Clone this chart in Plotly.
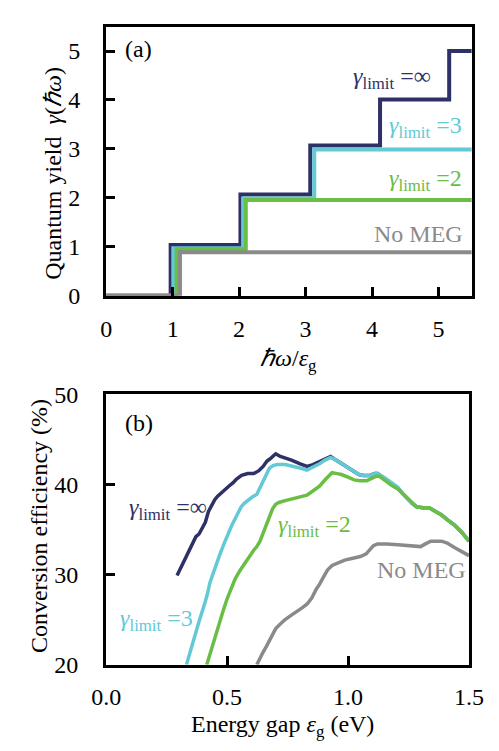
import plotly.graph_objects as go

W, H = 499, 751
FONT = "'Times New Roman', 'Liberation Serif', Tinos, serif"

# ---- Panel (a): quantum yield step functions ----
a_inf_x = [0, 0.97, 2.02, 3.07, 4.12, 5.16, 5.5]
a_inf_y = [0, 1.04, 2.07, 3.07, 4.01, 5.0, 5.0]
a_3_x = [0, 1.01, 2.06, 3.13, 5.5]
a_3_y = [0, 0.97, 1.99, 2.99, 2.99]
a_2_x = [0, 1.06, 2.10, 5.5]
a_2_y = [0, 0.95, 1.96, 1.96]
a_no_x = [0, 1.11, 5.5]
a_no_y = [0, 0.89, 0.89]

# ---- Panel (b): conversion efficiency vs energy gap ----
b_inf_x = [0.293, 0.306, 0.319, 0.332, 0.345, 0.358, 0.371, 0.384, 0.397, 0.410, 0.423, 0.436,
           0.449, 0.461, 0.480, 0.507, 0.525, 0.539, 0.560, 0.585, 0.610, 0.630, 0.649, 0.665,
           0.680, 0.701, 0.720, 0.745, 0.766, 0.800, 0.830, 0.855, 0.882, 0.905, 0.928, 0.950,
           0.973, 1.000, 1.025, 1.045, 1.064, 1.090, 1.110, 1.122, 1.154, 1.180, 1.206, 1.225,
           1.245, 1.265, 1.284, 1.310, 1.336, 1.360, 1.387, 1.410, 1.440, 1.470, 1.500]
b_inf_y = [29.9, 30.6, 31.3, 32.2, 32.8, 33.6, 34.2, 34.5, 35.1, 35.8, 37.0, 37.7,
           38.3, 38.7, 39.2, 39.8, 40.2, 40.6, 41.0, 41.2, 41.2, 41.5, 42.0, 42.6,
           42.9, 43.4, 43.1, 42.9, 42.7, 42.3, 42.0, 42.2, 42.5, 42.8, 43.1, 42.7,
           42.3, 41.8, 41.4, 41.1, 41.0, 41.0, 41.2, 41.2, 40.6, 40.1, 39.6, 39.0,
           38.4, 37.9, 37.5, 37.4, 37.4, 37.0, 36.6, 36.1, 35.5, 34.7, 33.7]
b_3_x = [0.332, 0.345, 0.358, 0.371, 0.384, 0.397, 0.410, 0.420, 0.429, 0.442, 0.455, 0.471,
         0.487, 0.503, 0.520, 0.539, 0.558, 0.571, 0.584, 0.604, 0.623, 0.636, 0.649, 0.662,
         0.675, 0.690, 0.707, 0.740, 0.779, 0.805, 0.830, 0.856, 0.882, 0.905, 0.928, 0.950,
         0.973, 1.000, 1.025, 1.045, 1.064, 1.090, 1.110, 1.122, 1.154, 1.180, 1.206, 1.225,
         1.245, 1.265, 1.284, 1.310, 1.336, 1.360, 1.387, 1.410, 1.440, 1.470, 1.500]
b_3_y = [20.0, 21.1, 22.3, 23.6, 24.8, 25.8, 27.0, 28.0, 29.1, 30.1, 31.2, 32.3,
         33.4, 34.5, 35.5, 36.5, 37.5, 37.9, 38.2, 38.6, 38.9, 39.6, 40.5, 41.2,
         41.8, 42.1, 42.2, 42.2, 42.0, 41.8, 41.6, 41.9, 42.3, 42.7, 43.0, 42.7,
         42.3, 41.8, 41.4, 41.1, 41.0, 41.0, 41.2, 41.2, 40.7, 40.2, 39.7, 39.0,
         38.4, 37.9, 37.5, 37.4, 37.4, 37.0, 36.6, 36.1, 35.5, 34.7, 33.7]
b_2_x = [0.416, 0.429, 0.442, 0.455, 0.468, 0.484, 0.500, 0.516, 0.533, 0.552, 0.571, 0.590,
         0.610, 0.623, 0.636, 0.649, 0.662, 0.675, 0.688, 0.701, 0.714, 0.740, 0.766, 0.800,
         0.830, 0.856, 0.882, 0.908, 0.934, 0.955, 0.973, 1.000, 1.025, 1.050, 1.077, 1.100,
         1.115, 1.130, 1.154, 1.180, 1.206, 1.225, 1.245, 1.265, 1.284, 1.310, 1.336, 1.360,
         1.387, 1.410, 1.440, 1.470, 1.500]
b_2_y = [20.0, 21.2, 22.3, 23.6, 24.8, 26.0, 27.3, 28.4, 29.5, 30.4, 31.2, 32.0,
         32.7, 33.1, 33.7, 34.6, 35.5, 36.4, 37.3, 37.8, 38.0, 38.2, 38.4, 38.6,
         38.8, 39.3, 39.8, 40.6, 41.3, 41.2, 41.1, 40.8, 40.5, 40.4, 40.4, 40.7,
         40.9, 40.9, 40.4, 39.9, 39.5, 39.0, 38.4, 37.9, 37.5, 37.4, 37.4, 37.0,
         36.6, 36.1, 35.5, 34.7, 33.7]
b_no_x = [0.623, 0.636, 0.649, 0.662, 0.680, 0.701, 0.720, 0.740, 0.766, 0.790, 0.810, 0.830,
          0.850, 0.869, 0.882, 0.900, 0.915, 0.934, 0.960, 0.986, 1.020, 1.051, 1.075, 1.090,
          1.105, 1.122, 1.160, 1.206, 1.240, 1.271, 1.300, 1.320, 1.342, 1.387, 1.410, 1.440,
          1.470, 1.500]
b_no_y = [20.0, 20.8, 21.4, 22.0, 23.0, 24.0, 24.5, 25.0, 25.5, 26.0, 26.3, 26.7,
          27.4, 28.4, 28.9, 29.8, 30.5, 31.0, 31.3, 31.6, 31.8, 32.0, 32.3, 32.8,
          33.2, 33.4, 33.4, 33.3, 33.2, 33.1, 33.1, 33.4, 33.7, 33.7, 33.5, 33.0,
          32.6, 32.1]

a_xticks = [0, 1, 2, 3, 4, 5]
a_yticks = [0, 1, 2, 3, 4, 5]
b_xticks = [0.0, 0.5, 1.0, 1.5]
b_xticklabels = ["0.0", "0.5", "1.0", "1.5"]
b_yticks = [20, 30, 40, 50]

NAVY = "#2E3166"
CYAN = "#62C9D5"
GREEN = "#6ABD45"
GRAY = "#8A8A8A"
FS = 24

fig = go.Figure()

def add(x, y, color, width, xa, ya, shape="linear"):
    fig.add_trace(go.Scatter(x=x, y=y, mode="lines", xaxis=xa, yaxis=ya,
                             line=dict(color=color, width=width, shape=shape),
                             showlegend=False, hoverinfo="skip"))

add(a_inf_x, a_inf_y, NAVY, 4, "x", "y", "hv")
add(a_3_x, a_3_y, CYAN, 4, "x", "y", "hv")
add(a_2_x, a_2_y, GREEN, 4, "x", "y", "hv")
add(a_no_x, a_no_y, GRAY, 4, "x", "y", "hv")

add(b_inf_x, b_inf_y, NAVY, 3.5, "x2", "y2")
add(b_3_x, b_3_y, CYAN, 3.5, "x2", "y2")
add(b_2_x, b_2_y, GREEN, 3.5, "x2", "y2")
add(b_no_x, b_no_y, GRAY, 3.5, "x2", "y2")

axis_common = dict(showline=True, linecolor="black", linewidth=3, mirror=True,
                   ticks="inside", ticklen=9, tickwidth=3, tickcolor="black",
                   showgrid=False, zeroline=False,
                   tickfont=dict(family=FONT, size=FS, color="black"))

def px(x):
    return x / W

def py(y):
    return 1 - y / H

fig.update_layout(
    width=W, height=H,
    margin=dict(l=0, r=0, t=0, b=0),
    paper_bgcolor="white", plot_bgcolor="white",
    font=dict(family=FONT, size=FS, color="black"),
    xaxis=dict(domain=[px(97), px(486)], range=[0, 5.5], tickvals=a_xticks,
               anchor="y", ticklabelstandoff=9, **axis_common),
    yaxis=dict(domain=[py(293), py(14)], range=[0, 5.5], tickvals=a_yticks,
               anchor="x", ticklabelstandoff=18, **axis_common),
    xaxis2=dict(domain=[px(97), px(483)], range=[0, 1.5], tickvals=b_xticks,
                ticktext=b_xticklabels, anchor="y2", ticklabelstandoff=9, **axis_common),
    yaxis2=dict(domain=[py(675), py(395)], range=[20, 50], tickvals=b_yticks,
                anchor="x2", ticklabelstandoff=20, **axis_common),
)

def ann(text, x, y, color, size=FS, xref="x", yref="y", xanchor="left", yanchor="middle", angle=0):
    fig.add_annotation(text=text, x=x, y=y, xref=xref, yref=yref, showarrow=False,
                       xanchor=xanchor, yanchor=yanchor, textangle=angle,
                       font=dict(family=FONT, size=size, color=color))

GL = "<i>γ</i><sub>limit</sub> =%s"

# panel (a) labels
ann("(a)", px(115), py(37), "black", xref="paper", yref="paper")
ann(GL % "∞", 4.92, 4.45, NAVY, xanchor="right")
ann(GL % "3", 5.39, 3.44, CYAN, xanchor="right")
ann(GL % "2", 5.39, 2.37, GREEN, xanchor="right")
ann("No MEG", 5.40, 1.26, GRAY, xanchor="right")

# panel (b) labels
ann("(b)", px(115), py(425), "black", xref="paper", yref="paper")
ann(GL % "∞", 0.088, 37.3, NAVY, xref="x2", yref="y2")
ann(GL % "3", 0.050, 25.0, CYAN, xref="x2", yref="y2")
ann(GL % "2", 0.703, 35.4, GREEN, xref="x2", yref="y2")
ann("No MEG", 1.112, 30.5, GRAY, xref="x2", yref="y2")

# axis titles
ann("Quantum yield  <i>γ</i>(<i>ℏω</i>)", px(41), py(166), "black",
    xref="paper", yref="paper", xanchor="center", angle=-90)
ann("<i>ℏω</i>/<i>ε</i><sub>g</sub>", px(291), py(359), "black",
    xref="paper", yref="paper", xanchor="center")
ann("Conversion efficiency (%)", px(25), py(531), "black",
    xref="paper", yref="paper", xanchor="center", angle=-90)
ann("Energy gap <i>ε</i><sub>g</sub> (eV)", px(285), py(739), "black",
    xref="paper", yref="paper", xanchor="center")

fig.write_html("out.html")
